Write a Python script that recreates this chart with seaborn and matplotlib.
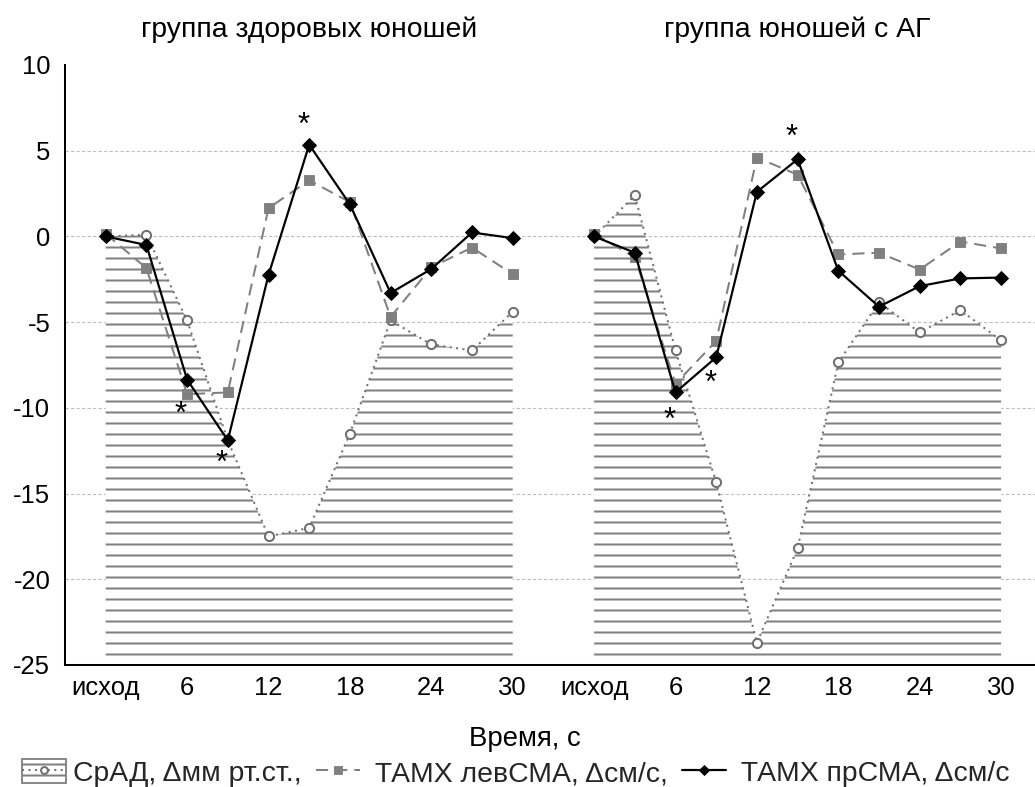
import numpy as np
import pandas as pd
import matplotlib
matplotlib.use("Agg")
import matplotlib.pyplot as plt
import seaborn as sns
from matplotlib.patches import Patch
from matplotlib.lines import Line2D
import matplotlib.transforms as mtransforms

# ---------------- data ----------------
group_titles = ["группа здоровых юношей", "группа юношей с АГ"]
time_points = [0, 3, 6, 9, 12, 15, 18, 21, 24, 27, 30]
tick_labels = ["исход", "6", "12", "18", "24", "30"]
series_names = ["СрАД, Δмм рт.ст.,", "ТАМХ левСМА, Δсм/с,", "ТАМХ прСМА, Δсм/с"]

srad_healthy = [0.0, 0.1, -4.9, -11.9, -17.5, -17.0, -11.5, -4.9, -6.3, -6.65, -4.4]
tamx_lev_healthy = [0.15, -1.85, -9.2, -9.1, 1.65, 3.27, 2.0, -4.7, -1.8, -0.65, -2.2]
tamx_pr_healthy = [0.0, -0.5, -8.35, -11.9, -2.25, 5.35, 1.87, -3.3, -1.9, 0.23, -0.1]

srad_ag = [0.0, 2.4, -6.65, -14.35, -23.7, -18.2, -7.35, -3.85, -5.6, -4.3, -6.07]
tamx_lev_ag = [0.15, -1.2, -8.6, -6.1, 4.6, 3.6, -1.05, -0.95, -1.93, -0.3, -0.7]
tamx_pr_ag = [0.0, -0.95, -9.1, -7.05, 2.6, 4.5, -2.0, -4.1, -2.9, -2.45, -2.4]

# significance marks (*): group index, time index, vertical position
star_group = [0, 0, 0, 1, 1, 1]
star_index = [2, 3, 5, 2, 3, 5]
star_y = [-10.1, -12.95, 6.77, -10.45, -8.3, 6.07]

# ---------------- build frame ----------------
group_offset = [0, 12]
values = {
    0: [srad_healthy, tamx_lev_healthy, tamx_pr_healthy],
    1: [srad_ag, tamx_lev_ag, tamx_pr_ag],
}
rows = []
for g in (0, 1):
    for s, name in enumerate(series_names):
        for i, t in enumerate(time_points):
            rows.append({"pos": i + group_offset[g], "time": t,
                         "value": values[g][s][i], "group": g, "series": name})
df = pd.DataFrame(rows)

# ---------------- style ----------------
DPI = 132
sns.set_style("white")
plt.rcParams["font.family"] = ["Liberation Sans", "DejaVu Sans"]
plt.rcParams["hatch.linewidth"] = 1.1
plt.rcParams["hatch.color"] = "#808080"

fig = plt.figure(figsize=(1035 / DPI, 787 / DPI), dpi=DPI)
L, R, B, T = 65, 1035, 665, 65
ax = fig.add_axes([L / 1035, 1 - B / 787, (R - L) / 1035, (B - T) / 787])

step_px = 40.7
ax.set_xlim(-1, -1 + (R - L) / step_px)
ax.set_ylim(-25, 10)

ax.set_yticks(np.arange(-25, 11, 5))
ax.set_yticklabels([f"{v:d}" for v in range(-25, 11, 5)])
ax.set_axisbelow(True)
for yv in range(-20, 10, 5):
    ax.axhline(yv, color="#bdbdbd", lw=0.6, ls=(0, (3, 2)), zorder=0.5)

# hatched area under СрАД
for g in (0, 1):
    sub = df[(df.group == g) & (df.series == series_names[0])]
    ax.fill_between(sub["pos"], sub["value"], -25, facecolor="white",
                    edgecolor="#808080", linewidth=0, hatch="--", zorder=1)

# lines
styles = [
    dict(color="#707070", linestyle=(0, (1, 2.2)), lw=1.1, marker="o", markersize=5.0,
         markerfacecolor="white", markeredgecolor="#707070", markeredgewidth=1.1),
    dict(color="#808080", linestyle=(0, (6, 3.5)), lw=1.1, marker="s", markersize=5.8,
         markerfacecolor="#808080", markeredgecolor="#808080", markeredgewidth=0.5),
    dict(color="black", linestyle="-", lw=1.2, marker="D", markersize=5.6,
         markerfacecolor="black", markeredgecolor="black", markeredgewidth=0.5),
]
for s, name in enumerate(series_names):
    sub = df[df.series == name]
    sns.lineplot(data=sub, x="pos", y="value", units="group", estimator=None,
                 sort=False, ax=ax, legend=False, zorder=3 + s, **styles[s])

# stars
for g, i, yv in zip(star_group, star_index, star_y):
    xv = i + group_offset[g] - 0.15
    ax.annotate("*", (xv, yv), xytext=(0, -3), textcoords="offset points",
                ha="center", va="center", fontsize=17, color="black", zorder=10)

# axes cosmetics
for sp in ("top", "right"):
    ax.spines[sp].set_visible(False)
for sp in ("left", "bottom"):
    ax.spines[sp].set_color("black")
    ax.spines[sp].set_linewidth(1.1)

ax.set_xticks(np.arange(0, 23, 1))
xt = []
for p in range(23):
    if p <= 10 and p % 2 == 0:
        xt.append(tick_labels[p // 2])
    elif p >= 12 and p % 2 == 0:
        xt.append(tick_labels[(p - 12) // 2])
    else:
        xt.append("")
ax.set_xticklabels(xt)
ax.tick_params(axis="x", direction="in", length=3, width=1, color="black",
               pad=6, labelsize=14, labelcolor="black")
ax.tick_params(axis="y", direction="in", length=3, width=1, color="black",
               pad=8, labelsize=14, labelcolor="black")
ax.set_xlabel("")
ax.set_ylabel("")

# group titles
trans = mtransforms.blended_transform_factory(ax.transData, fig.transFigure)
for g in (0, 1):
    ax.text(5 + group_offset[g], 1 - 30 / 787, group_titles[g], transform=trans,
            ha="center", va="center", fontsize=15.5, color="black")

fig.text(525 / 1035, 1 - 739 / 787, "Время, с", ha="center", va="center",
         fontsize=15, color="black")

# legend
h0 = (Patch(facecolor="white", edgecolor="#808080", hatch="--", lw=1.0),
      Line2D([], [], **styles[0]))
h1 = Line2D([], [], **styles[1])
h2 = Line2D([], [], **styles[2])
leg_labels = [series_names[0], " " + series_names[1], " " + series_names[2]]
fig.legend([h0, h1, h2], leg_labels, loc="center left",
           bbox_to_anchor=(22 / 1035, 1 - 773 / 787), ncol=3, frameon=False,
           fontsize=15.5, handlelength=1.55, handleheight=0.95, handletextpad=0.25,
           columnspacing=0.5, borderpad=0, borderaxespad=0, markerscale=0.75)

fig.savefig("out.png", dpi=DPI)
